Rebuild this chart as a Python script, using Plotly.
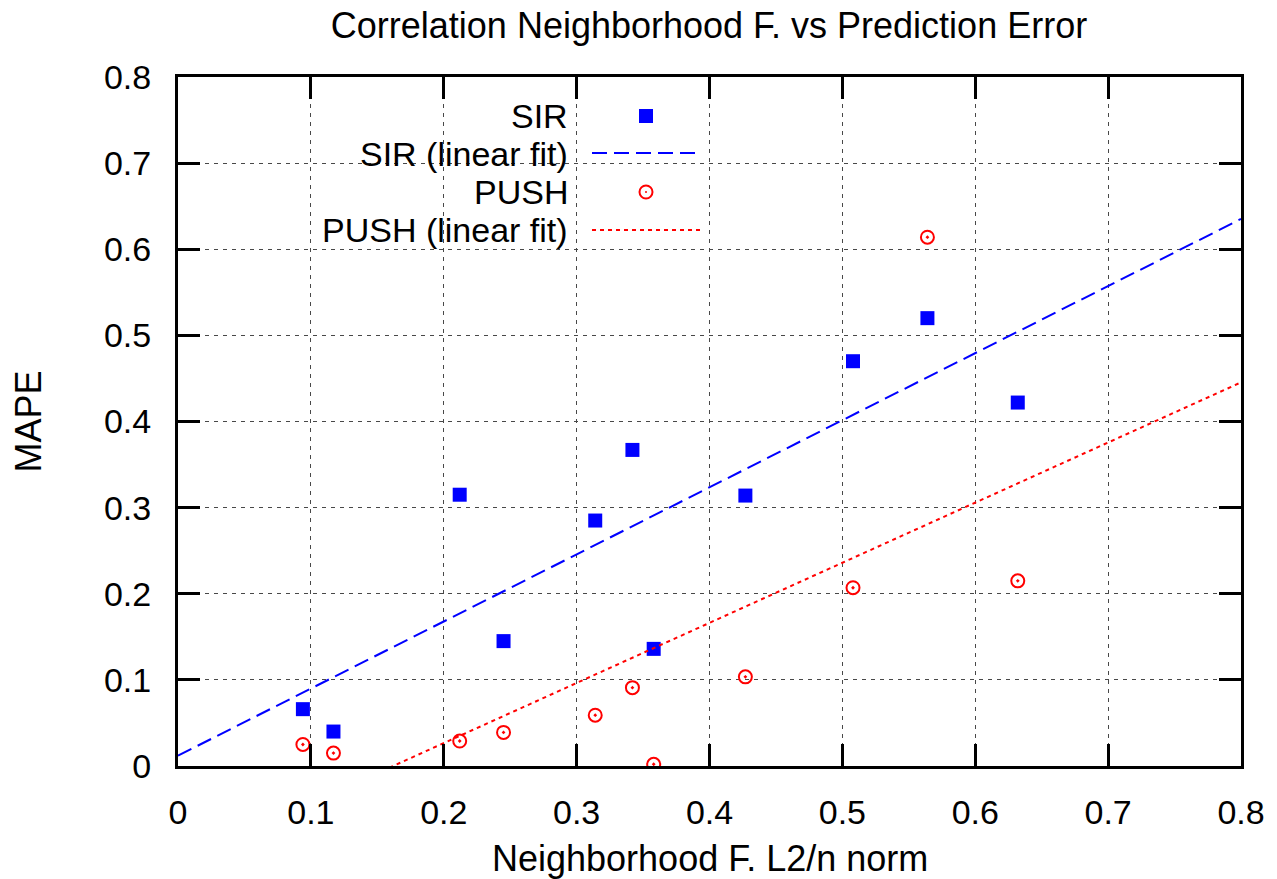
import plotly.graph_objects as go

# ---- data ----
x_vals = [0.094, 0.117, 0.212, 0.245, 0.314, 0.342, 0.358, 0.427, 0.508, 0.564, 0.632]
sir_mape = [0.066, 0.040, 0.315, 0.145, 0.285, 0.367, 0.136, 0.314, 0.470, 0.520, 0.422]
push_mape = [0.025, 0.015, 0.029, 0.039, 0.059, 0.091, 0.002, 0.1035, 0.207, 0.614, 0.215]

# linear fit coefficients (slope, intercept) as drawn
sir_fit = (0.779, 0.012)
push_fit = (0.698, -0.113)
fit_x = [0.0, 0.8]

x_ticks = [0, 0.1, 0.2, 0.3, 0.4, 0.5, 0.6, 0.7, 0.8]
y_ticks = [0, 0.1, 0.2, 0.3, 0.4, 0.5, 0.6, 0.7, 0.8]
x_tick_text = ["0", "0.1", "0.2", "0.3", "0.4", "0.5", "0.6", "0.7", "0.8"]
y_tick_text = ["0", "0.1", "0.2", "0.3", "0.4", "0.5", "0.6", "0.7", "0.8"]

legend_labels = ["SIR", "SIR (linear fit)", "PUSH", "PUSH (linear fit)"]

title_text = "Correlation Neighborhood F. vs Prediction Error"
x_title = "Neighborhood F. L2/n norm"
y_title = "MAPE"

BLUE = "#0000ff"
RED = "#ff0000"
FONT = "Liberation Sans, Arial, Helvetica, sans-serif"

W, H = 1277, 879
L, R, T, B = 178, 36, 77, 113
PW, PH = W - L - R, H - T - B


def px(xp):
    return (xp - L) / PW


def py(yp):
    return (H - B - yp) / PH


fig = go.Figure()

fig.add_trace(go.Scatter(
    x=x_vals, y=sir_mape, mode="markers", name=legend_labels[0],
    marker=dict(symbol="square", size=14, color=BLUE, line=dict(width=0)),
))
fig.add_trace(go.Scatter(
    x=fit_x, y=[sir_fit[0] * v + sir_fit[1] for v in fit_x], mode="lines",
    name=legend_labels[1], line=dict(color=BLUE, width=2, dash="15px,7px"),
))
fig.add_trace(go.Scatter(
    x=x_vals, y=push_mape, mode="markers", name=legend_labels[2],
    marker=dict(symbol="circle-open-dot", size=13, color=RED, line=dict(width=2, color=RED)),
))
fig.add_trace(go.Scatter(
    x=fit_x, y=[push_fit[0] * v + push_fit[1] for v in fit_x], mode="lines",
    name=legend_labels[3], line=dict(color=RED, width=2, dash="4px,4px"),
))

# legend row centres (pixels from top)
legend_y = [116, 154, 192, 230]

shapes = []
# opaque legend box (hides grid lines, like gnuplot's key)
shapes.append(dict(type="rect", xref="paper", yref="paper", layer="between",
                   x0=px(180), x1=px(722), y0=py(247), y1=py(79),
                   fillcolor="white", line=dict(width=0)))
# legend samples
shapes.append(dict(type="rect", xref="paper", yref="paper",
                   x0=px(639), x1=px(653), y0=py(legend_y[0] + 7), y1=py(legend_y[0] - 7),
                   fillcolor=BLUE, line=dict(width=0)))
shapes.append(dict(type="line", xref="paper", yref="paper",
                   x0=px(592), x1=px(702), y0=py(legend_y[1] - 1), y1=py(legend_y[1] - 1),
                   line=dict(color=BLUE, width=2, dash="15px,7px")))
shapes.append(dict(type="circle", xref="paper", yref="paper",
                   x0=px(639.5), x1=px(652.5), y0=py(legend_y[2] + 6.5), y1=py(legend_y[2] - 6.5),
                   line=dict(color=RED, width=2)))
shapes.append(dict(type="circle", xref="paper", yref="paper",
                   x0=px(645), x1=px(647), y0=py(legend_y[2] + 1), y1=py(legend_y[2] - 1),
                   fillcolor=RED, line=dict(color=RED, width=0)))
shapes.append(dict(type="line", xref="paper", yref="paper",
                   x0=px(592), x1=px(702), y0=py(legend_y[3]), y1=py(legend_y[3]),
                   line=dict(color=RED, width=2, dash="4px,4px")))

annotations = []
for lab, yy in zip(legend_labels, legend_y):
    annotations.append(dict(text=lab, xref="paper", yref="paper", x=px(568), y=py(yy),
                            xanchor="right", yanchor="middle", showarrow=False,
                            borderpad=0, borderwidth=0,
                            font=dict(size=34, color="black", family=FONT)))
annotations.append(dict(text=x_title, xref="paper", yref="paper", x=0.5, y=py(858),
                        xanchor="center", yanchor="middle", showarrow=False,
                        font=dict(size=36, color="black", family=FONT)))
annotations.append(dict(text=y_title, xref="paper", yref="paper", x=px(28), y=0.5,
                        xanchor="center", yanchor="middle", textangle=-90, showarrow=False,
                        font=dict(size=36, color="black", family=FONT)))

axis_common = dict(
    showline=True, linecolor="black", linewidth=3, mirror="ticks",
    ticks="inside", ticklen=22, tickwidth=3, tickcolor="black",
    showgrid=True, gridcolor="#484848", gridwidth=1, griddash="4px,5px",
    zeroline=False, tickfont=dict(size=34, color="black", family=FONT),
    range=[0, 0.8], fixedrange=True,
)

fig.update_layout(
    width=W, height=H,
    margin=dict(l=L, r=R, t=T, b=B, pad=0),
    paper_bgcolor="white", plot_bgcolor="white",
    showlegend=False,
    font=dict(family=FONT, color="black"),
    title=dict(text=title_text, x=px(709), xanchor="center", y=1 - 25 / H, yanchor="middle",
               yref="container", xref="paper", font=dict(size=36, color="black", family=FONT)),
    xaxis=dict(**axis_common, tickmode="array", tickvals=x_ticks, ticktext=x_tick_text,
               ticklabelstandoff=14),
    yaxis=dict(**axis_common, tickmode="array", tickvals=y_ticks, ticktext=y_tick_text,
               ticklabelstandoff=17),
    shapes=shapes, annotations=annotations,
)

fig.write_html("out.html")
